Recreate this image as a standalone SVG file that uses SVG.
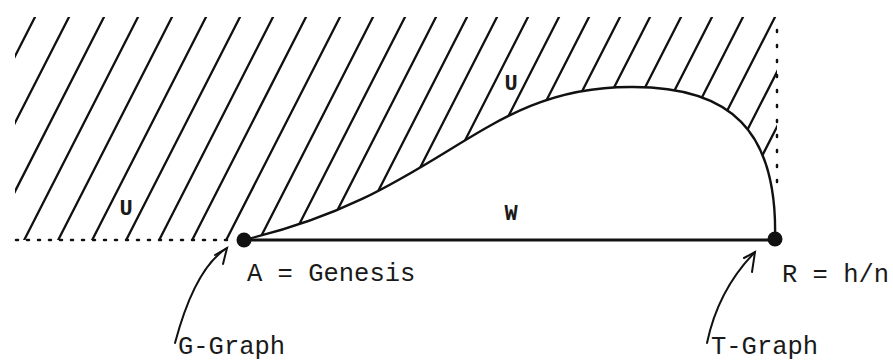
<svg xmlns="http://www.w3.org/2000/svg" width="893" height="363" viewBox="0 0 893 363">
<style>
.ln{fill:none;stroke:#111;stroke-linecap:round}
.hatch{stroke-width:2.3}
.dot{fill:#111}
.lbl{font-family:"Liberation Mono","Courier New",monospace;font-size:25.5px;fill:#1a1a1a}
.reg{font-family:"Liberation Mono","Courier New",monospace;font-size:22px;font-weight:bold;fill:#1a1a1a;text-anchor:middle}
</style>
<defs>
<clipPath id="uclip">
<path d="M15,17 H777 V240 H775 C778,130 730,86 630,87 C480,87 443,194 243,240 H15 Z"/>
</clipPath>
</defs>
<rect width="893" height="363" fill="#fff"/>
<g id="region-U">
<path class="ln hatch" clip-path="url(#uclip)" d="M35,17 L-78.8,240 M69,17 L-44.8,240 M104,17 L-9.8,240 M138,17 L24.2,240 M172,17 L58.2,240 M206,17 L92.2,240 M240,17 L126.2,240 M273,17 L159.2,240 M306,17 L192.2,240 M340,17 L226.2,240 M373,17 L259.2,240 M405,17 L291.2,240 M436,17 L322.2,240 M467,17 L353.2,240 M497,17 L383.2,240 M528,17 L414.2,240 M559,17 L445.2,240 M589,17 L475.2,240 M620,17 L506.2,240 M650,17 L536.2,240 M681,17 L567.2,240 M712,17 L598.2,240 M743,17 L629.2,240 M775,17 L661.2,240 M805,17 L691.2,240 M833,17 L719.2,240"/>
<path class="ln" stroke-width="2.5" stroke-dasharray="2 9" d="M16,240 H229"/>
<path class="ln" stroke-width="2.5" stroke-dasharray="2 13" d="M777,30 V186"/>
<text class="reg" x="126" y="215">U</text>
<text class="reg" x="511" y="90">U</text>
</g>
<g id="region-W">
<path class="ln" stroke-width="2.4" d="M243,240 C443,194 480,87 630,87 C730,86 778,130 775,240"/>
<path class="ln" stroke-width="3" d="M243,240 H775"/>
<text class="reg" x="511" y="220">W</text>
</g>
<g id="node-A">
<circle class="dot" cx="244" cy="240" r="7.5"/>
<text class="lbl" x="247" y="281">A = Genesis</text>
</g>
<g id="node-R">
<circle class="dot" cx="775" cy="239" r="7.5"/>
<text class="lbl" x="782" y="282">R = h/n</text>
</g>
<g id="node-G">
<text class="lbl" x="178" y="354">G-Graph</text>
</g>
<g id="node-T">
<text class="lbl" x="711" y="354">T-Graph</text>
</g>
<g id="connectors">
<path class="ln" stroke-width="2" d="M175,343 Q195,268 227,248"/>
<path class="ln" stroke-width="2" d="M215,255 L227,248 L223,264"/>
<path class="ln" stroke-width="2" d="M707,343 Q718,290 755,252"/>
<path class="ln" stroke-width="2" d="M744,258 L755,252 L752,272"/>
</g>
</svg>
